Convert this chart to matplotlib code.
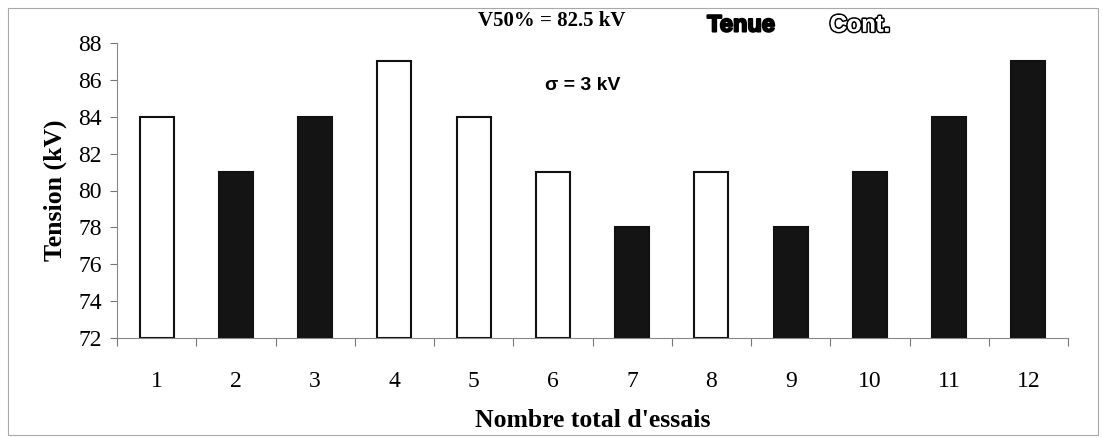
import matplotlib
matplotlib.use("Agg")
import matplotlib.pyplot as plt
import matplotlib.patheffects as pe
from matplotlib.patches import Rectangle
import logging
logging.getLogger("matplotlib.font_manager").setLevel(logging.ERROR)

# Data
essais = list(range(1, 13))
tension = [84, 81, 84, 87, 84, 81, 78, 81, 78, 81, 84, 87]
# True = withstand (Tenue, white), False = flashover (Cont., black)
tenue = [True, False, False, True, True, True, False, True, False, False, False, False]
yticks = [72, 74, 76, 78, 80, 82, 84, 86, 88]

serif = ["Liberation Serif", "DejaVu Serif"]
sans = ["Liberation Sans", "DejaVu Sans"]
narrow = ["Liberation Sans Narrow", "Liberation Sans"]

fig = plt.figure(figsize=(11.02, 4.38), dpi=100)
fig.patch.set_facecolor("white")
fig.add_artist(Rectangle((8 / 1102, 3 / 438), 1090 / 1102, 427 / 438, transform=fig.transFigure,
                         fill=False, edgecolor="#a8a8a8", linewidth=0.8))

ax = fig.add_axes([117 / 1102, 1 - 338 / 438, (1068 - 117) / 1102, (338 - 43) / 438])
base = yticks[0]
heights = [v - base for v in tension]
colors = ["white" if t else "#141414" for t in tenue]
ax.bar(essais, heights, bottom=base, width=0.43, color=colors, edgecolor="#111111", linewidth=1.5)

ax.set_xlim(0.5, 12.5)
ax.set_ylim(72, 88)
ax.set_yticks(yticks)
ax.set_yticklabels([str(v) for v in yticks], fontfamily=serif, fontsize=17)
ax.set_xticks(essais)
ax.set_xticklabels([str(v) for v in essais], fontfamily=serif, fontsize=17)
ax.tick_params(axis="x", which="major", length=0, pad=24)
ax.set_xticks([i + 0.5 for i in range(0, 13)], minor=True)
ax.tick_params(axis="x", which="minor", length=6, width=0.8, color="#777777", direction="out")
ax.tick_params(axis="y", length=5, width=0.8, color="#777777", pad=6)
for s in ["top", "right"]:
    ax.spines[s].set_visible(False)
for s in ["left", "bottom"]:
    ax.spines[s].set_color("#888888")
    ax.spines[s].set_linewidth(0.8)

ax.set_xlabel("Nombre total d'essais", fontfamily=serif, fontsize=18.5, fontweight="bold", labelpad=12)
ax.set_ylabel("Tension (kV)", fontfamily=serif, fontsize=18.5, fontweight="bold", labelpad=8)

fig.text(552 / 1102, 1 - 21 / 438, "V50% = 82.5 kV", fontfamily=serif, fontsize=15, fontweight="bold",
         ha="center", va="center")
fig.text(583 / 1102, 1 - 85 / 438, "σ = 3 kV", fontfamily=sans, fontsize=14, fontweight="bold",
         ha="center", va="center")
t1 = fig.text(741 / 1102, 1 - 25 / 438, "Tenue", fontfamily=narrow, fontsize=17, fontweight="bold",
              ha="center", va="center", color="black")
t1.set_path_effects([pe.withStroke(linewidth=1.5, foreground="black"), pe.Normal()])
t2 = fig.text(860 / 1102, 1 - 25 / 438, "Cont.", fontfamily=narrow, fontsize=17, fontweight="bold",
              ha="center", va="center", color="white")
t2.set_path_effects([pe.withStroke(linewidth=2.4, foreground="black"), pe.Normal()])

fig.savefig("out.png", dpi=100, facecolor="white")
